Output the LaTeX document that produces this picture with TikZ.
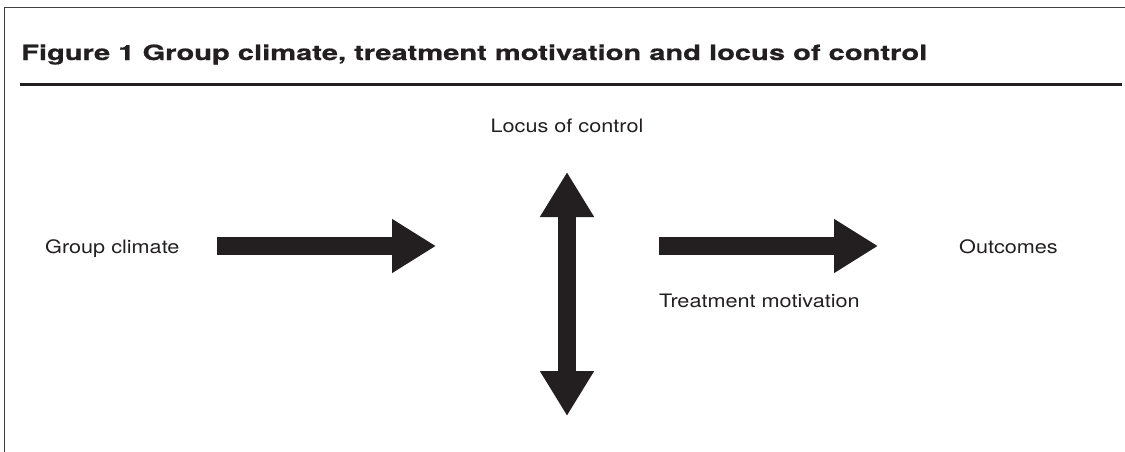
\documentclass[tikz,border=0pt]{standalone}
\usepackage{fontspec}
\setmainfont{TeX Gyre Heros}
\newfontfamily\labelfont[FakeStretch=1.17]{TeX Gyre Heros}
\newfontfamily\headfont[FakeStretch=1.385,FakeBold=0.8]{TeX Gyre Heros Bold}
\usepackage{tikz}
\usetikzlibrary{positioning}
\usetikzlibrary{arrows.meta}

\definecolor{inkgray}{HTML}{231F20}
\definecolor{framegray}{HTML}{404040}

\tikzset{
  label/.style={inner sep=0pt, text=inkgray, font=\labelfont\fontsize{18.5}{22}\selectfont},
  heading/.style={inner sep=0pt, text=inkgray, font=\headfont\fontsize{21}{24}\selectfont},
  blockarrow/.style={line width=18pt, draw=inkgray, -{Triangle[length=44pt,width=51pt]}},
}

\begin{document}
\begin{tikzpicture}[x=1pt,y=-1pt]
\useasboundingbox (0,0) rectangle (1125,452);

% frame and title rule
\draw[framegray, line width=1.5pt] (4.5,452) -- (4.5,7.5) -- (1125,7.5);
\node (T) [heading, anchor=base west] at (21,60) {Figure 1 Group climate, treatment motivation and locus of control};
\draw[inkgray, line width=3pt] (20,85) -- (1122,85);

\node (GC) [label, anchor=base west] at (45,253) {Group climate};
\node (LC) [label, anchor=base] at (567,132) {Locus of control};
\node (TM) [label, anchor=base west] at (659,307) {Treatment motivation};
\node (OC) [label, anchor=base east] at (1058,253) {Outcomes};

\coordinate (A1) at (217,246);
\coordinate (A2) at (436,246);
\coordinate (B1) at (567,172);
\coordinate (B2) at (567,416);
\coordinate (C1) at (659,246);
\coordinate (C2) at (878,246);

\draw[blockarrow] (A1) -- (A2);
\draw[blockarrow, {Triangle[length=45pt,width=51pt]}-{Triangle[length=45pt,width=51pt]}] (B1) -- (B2);
\draw[blockarrow] (C1) -- (C2);
\end{tikzpicture}
\end{document}
